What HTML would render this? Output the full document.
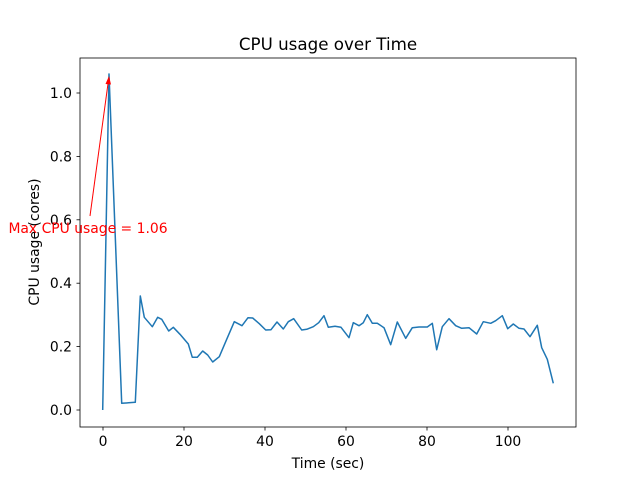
<!DOCTYPE html>
<html><head><style>body{margin:0;background:#fff}</style></head><body>
<svg width="640" height="480" xmlns="http://www.w3.org/2000/svg" font-family="DejaVu Sans, sans-serif">
<rect width="640" height="480" fill="#fff"/>
<polyline fill="none" stroke="#1f77b4" stroke-width="1.5" stroke-linejoin="round" points="102.7,410 109,74 121.7,403.3 135.3,402.3 140.3,296 144.3,317.3 152.3,326.7 157.7,317.3 161.7,319.3 168.7,331 173.3,327.3 180,334.3 188.3,344 192.3,357.3 197.3,357.3 202.7,351 207.7,355 212.7,362 219.3,356.7 226.7,339.3 234.3,321.7 242,325.7 248,317.7 252.7,318 259.3,323.7 265.7,330 271,329.7 277,322 283.3,329 288.3,321.7 293.7,318.7 301.7,330 306.7,329.3 313.3,326.7 318.7,322.7 324,315.7 328.3,327.3 335,326.3 341,327.3 349,337.7 353.3,322.7 359,325.7 363.3,322.7 367.3,314.7 372.3,323.3 377.3,323.3 384,327.7 390.7,344.7 397.3,322 405.7,338.3 412.3,327.7 419,327 427.3,327 432.3,323.3 436.7,349.7 442.3,326.7 449,318.7 455.7,325.7 461.7,328.3 469,327.7 476.7,334 483.3,321.7 490.7,323.3 495.7,320.7 502.3,315.7 507.7,328.7 513.3,324 519,328.3 524,329 530,336.7 537.3,325.3 541.7,347.7 547.3,359.3 553.3,383.3"/>
<rect x="80" y="58" width="496" height="369" fill="none" stroke="#000" stroke-width="0.8"/>
<g stroke="#000" stroke-width="0.8">
<line x1="103" y1="427" x2="103" y2="430.5"/><line x1="184" y1="427" x2="184" y2="430.5"/><line x1="265" y1="427" x2="265" y2="430.5"/><line x1="346" y1="427" x2="346" y2="430.5"/><line x1="427" y1="427" x2="427" y2="430.5"/><line x1="508" y1="427" x2="508" y2="430.5"/>
<line x1="76.5" y1="410" x2="80" y2="410"/><line x1="76.5" y1="346.6" x2="80" y2="346.6"/><line x1="76.5" y1="283.2" x2="80" y2="283.2"/><line x1="76.5" y1="219.8" x2="80" y2="219.8"/><line x1="76.5" y1="156.4" x2="80" y2="156.4"/><line x1="76.5" y1="93" x2="80" y2="93"/>
</g>
<g font-size="13.9" text-anchor="middle">
<text x="103" y="446">0</text><text x="184" y="446">20</text><text x="265" y="446">40</text><text x="346" y="446">60</text><text x="427" y="446">80</text><text x="508" y="446">100</text>
</g>
<g font-size="13.9" text-anchor="end">
<text x="72" y="415">0.0</text><text x="72" y="351.6">0.2</text><text x="72" y="288.2">0.4</text><text x="72" y="224.8">0.6</text><text x="72" y="161.4">0.8</text><text x="72" y="98">1.0</text>
</g>
<text x="328" y="468" font-size="13.9" text-anchor="middle">Time (sec)</text>
<text x="39" y="242" font-size="13.9" text-anchor="middle" transform="rotate(-90 39 242)">CPU usage (cores)</text>
<text x="328" y="50" font-size="16.7" text-anchor="middle">CPU usage over Time</text>
<line x1="90" y1="216" x2="108.5" y2="80" stroke="#f00" stroke-width="1"/>
<polygon points="109,76 105.5,84 111,84.5" fill="#f00"/>
<text x="88" y="233" font-size="13.9" fill="#f00" text-anchor="middle">Max CPU usage = 1.06</text>
</svg>
</body></html>
